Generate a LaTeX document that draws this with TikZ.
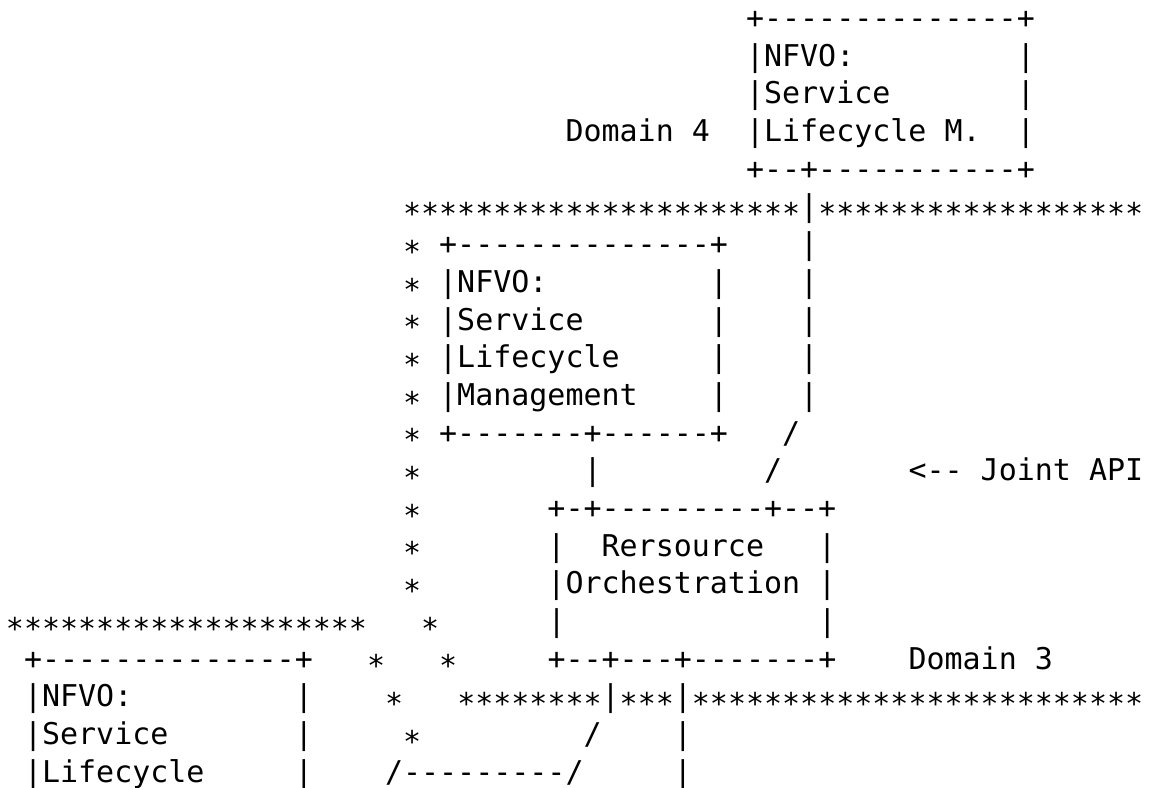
\documentclass[tikz,border=0pt]{standalone}
\usepackage{fontspec}
\setmonofont{DejaVu Sans Mono}
\usepackage{tikz}

% asterisks are lowered onto the axis of the box corners
\XeTeXcharclass`\*=7
\newcommand\lowast[1]{\lower.26em\hbox{\XeTeXinterchartokenstate=0 #1}}
\XeTeXinterchartoks 0 7 {\lowast}
\XeTeXinterchartoks 4095 7 {\lowast}
\XeTeXinterchartoks 7 7 {\lowast}

\tikzset{
  asciirow/.style={font=\ttfamily\fontsize{15pt}{18pt}\selectfont, anchor=base west,
    inner sep=0pt, outer sep=0pt, execute at begin node={\XeTeXinterchartokenstate=1}}
}

\begin{document}
\begin{tikzpicture}[x=9.03pt, y=-18.85pt]
    \path[fill=white, use as bounding box] (-0.331,0.2414) rectangle (63.437,21.143);

    % one node per text line, placed at (column, line)
    \node[asciirow] (r1) at (41,1) {+--------------+};
    \node[asciirow] (r2) at (41,2) {|NFVO:~~~~~~~~~|};
    \node[asciirow] (r3) at (41,3) {|Service~~~~~~~|};
    \node[asciirow] (r4) at (31,4) {Domain 4~~|Lifecycle M.~~|};
    \node[asciirow] (r5) at (41,5) {+--+-----------+};
    \node[asciirow] (r6) at (22,6) {**********************|******************};
    \node[asciirow] (r7) at (22,7) {*~+--------------+~~~~|};
    \node[asciirow] (r8) at (22,8) {*~|NFVO:~~~~~~~~~|~~~~|};
    \node[asciirow] (r9) at (22,9) {*~|Service~~~~~~~|~~~~|};
    \node[asciirow] (r10) at (22,10) {*~|Lifecycle~~~~~|~~~~|};
    \node[asciirow] (r11) at (22,11) {*~|Management~~~~|~~~~|};
    \node[asciirow] (r12) at (22,12) {*~+-------+------+~~~/};
    \node[asciirow] (r13) at (22,13) {*~~~~~~~~~|~~~~~~~~~/~~~~~~~<-- Joint API};
    \node[asciirow] (r14) at (22,14) {*~~~~~~~+-+---------+--+};
    \node[asciirow] (r15) at (22,15) {*~~~~~~~|~~Rersource~~~|};
    \node[asciirow] (r16) at (22,16) {*~~~~~~~|Orchestration~|};
    \node[asciirow] (r17) at (0,17) {********************~~~*~~~~~~|~~~~~~~~~~~~~~|};
    \node[asciirow] (r18) at (1,18) {+--------------+~~~*~~~*~~~~~+--+---+-------+~~~~Domain 3};
    \node[asciirow] (r19) at (1,19) {|NFVO:~~~~~~~~~|~~~~*~~~********|***|*************************};
    \node[asciirow] (r20) at (1,20) {|Service~~~~~~~|~~~~~*~~~~~~~~~/~~~~|};
    \node[asciirow] (r21) at (1,21) {|Lifecycle~~~~~|~~~~/---------/~~~~~|};
\end{tikzpicture}
\end{document}
